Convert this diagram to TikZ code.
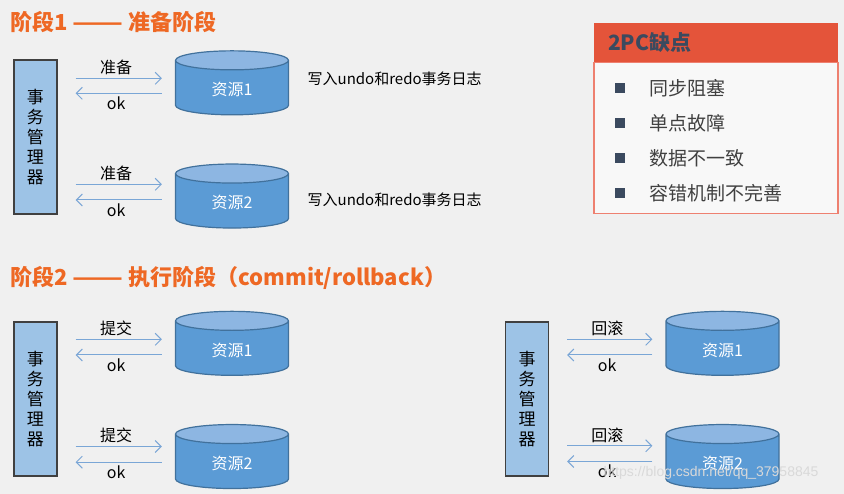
\documentclass[tikz,border=0pt]{standalone}
\usepackage{fontspec}
\setmainfont{Noto Sans CJK SC}
\newfontfamily\urlfont{Liberation Sans}
\usepackage{xcolor}
\usepackage{graphicx}
\definecolor{stageorange}{RGB}{238,104,36}
\definecolor{mgrblue}{RGB}{157,195,230}
\definecolor{resblue}{RGB}{91,155,213}
\definecolor{restop}{RGB}{141,182,226}
\definecolor{resedge}{RGB}{65,113,156}
\definecolor{msgblue}{RGB}{122,166,214}
\definecolor{conred}{RGB}{228,84,58}
\definecolor{conedge}{RGB}{238,128,112}
\definecolor{coninkblue}{RGB}{59,74,95}
\definecolor{pagegray}{RGB}{240,240,240}
\newcommand{\longdash}{\scalebox{1.35}[1]{——}}
\usetikzlibrary{arrows.meta,shapes.geometric,positioning,calc}
\tikzset{
	stage/.style={
		anchor=west,
		inner sep=0pt,
		text=stageorange,
		font=\bfseries\fontsize{22}{26}\selectfont,
	},
	manager/.style={
		rectangle,
		draw=black!75,
		line width=1.2pt,
		fill=mgrblue,
		minimum width=43pt,
		minimum height=154pt,
		align=center,
		font=\fontsize{17}{20}\selectfont,
	},
	resource/.style={
		cylinder,
		shape border rotate=90,
		aspect=0.4,
		draw=resedge,
		line width=1.2pt,
		cylinder uses custom fill,
		cylinder body fill=resblue,
		cylinder end fill=restop,
		minimum width=113pt,
		minimum height=64pt,
		text=white,
		font=\fontsize{16}{18}\selectfont,
	},
	req/.style={
		-{Straight Barb[length=6pt,width=12pt]},
		draw=msgblue,
		line width=1pt,
		shorten <=18pt,
		shorten >=13pt,
	},
	reply/.style={
		-{Straight Barb[length=6pt,width=12pt]},
		draw=msgblue,
		line width=1pt,
		shorten <=13pt,
		shorten >=18pt,
	},
	msglabel/.style={
		inner sep=3pt,
		font=\fontsize{16}{18}\selectfont,
	},
	redolog/.style={
		anchor=west,
		font=\fontsize{15}{18}\selectfont,
	},
	conhead/.style={
		rectangle,
		fill=conred,
		minimum width=244pt,
		minimum height=39pt,
		inner xsep=14pt,
		text width=216pt,
		align=left,
		text=coninkblue,
		font=\bfseries\fontsize{21}{24}\selectfont,
	},
	conbody/.style={
		rectangle,
		draw=conedge,
		line width=1.2pt,
		fill=white!55!pagegray,
		minimum width=244pt,
		minimum height=151pt,
	},
	conmark/.style={
		rectangle,
		fill=coninkblue,
		inner sep=0pt,
		minimum size=10pt,
	},
	conitem/.style={
		anchor=west,
		text=black!75,
		font=\fontsize{19}{22}\selectfont,
	},
}

\begin{document}
\begin{tikzpicture}[x=1pt,y=-1pt,node distance=48pt and 18pt]

\fill[pagegray] (0,0) rectangle (844,494);
\useasboundingbox (0,0) rectangle (844,494);

% stage 1: prepare
\node[stage] (si) at (10,22.5) {阶段1 \longdash{} 准备阶段};
\node[manager] (mi) at (35.5,137) {事\\务\\管\\理\\器};
\node[resource] (ri) at (232,89.5) {资源1};
\node[resource] (rii) [below=of ri] {资源2};
\node[redolog] (li) [right=15pt of ri,yshift=10.5pt] {写入undo和redo事务日志};
\node[redolog] (lii) [right=15pt of rii,yshift=2.7pt] {写入undo和redo事务日志};

\draw[req]
  ($(mi.east |- ri.center)+(0,-11.2)$)
  --
  node[msglabel,above]{准备}
  ($(ri.west |- ri.center)+(0,-11.2)$);
\draw[reply]
  ($(ri.west |- ri.center)+(0,3.8)$)
  --
  node[msglabel,below]{ok}
  ($(mi.east |- ri.center)+(0,3.8)$);

\draw[req]
  ($(mi.east |- rii.center)+(0,-18.4)$)
  --
  node[msglabel,above]{准备}
  ($(rii.west |- rii.center)+(0,-18.4)$);
\draw[reply]
  ($(rii.west |- rii.center)+(0,-2.7)$)
  --
  node[msglabel,below]{ok}
  ($(mi.east |- rii.center)+(0,-2.7)$);

% drawbacks
\node[conhead] (ch) at (716,42.5) {2PC缺点};
\node[conbody] (cb) [below=0pt of ch] {};
\node[conmark] (bi) at (620,88.3) {};
\node[conmark] (bii) [below=24.5pt of bi] {};
\node[conmark] (biii) [below=24.5pt of bii] {};
\node[conmark] (biv) [below=24.5pt of biii] {};
\node[conitem] (ci) [right=21pt of bi] {同步阻塞};
\node[conitem] (cii) [right=21pt of bii] {单点故障};
\node[conitem] (ciii) [right=21pt of biii] {数据不一致};
\node[conitem] (civ) [right=21pt of biv] {容错机制不完善};

% stage 2: commit / rollback
\node[stage] (sii) at (10,278) {阶段2 \longdash{} 执行阶段（commit/rollback）};
\node[manager] (mii) at (35.5,399) {事\\务\\管\\理\\器};
\node[resource] (riii) at (232,350) {资源1};
\node[resource] (riv) [below=of riii] {资源2};
\node[manager] (miii) at (527,399) {事\\务\\管\\理\\器};
\node[resource] (rv) at (722.5,350) {资源1};
\node[resource] (rvi) [below=of rv] {资源2};

\draw[req]
  ($(mii.east |- riii.center)+(0,-10.7)$)
  --
  node[msglabel,above]{提交}
  ($(riii.west |- riii.center)+(0,-10.7)$);
\draw[reply]
  ($(riii.west |- riii.center)+(0,5)$)
  --
  node[msglabel,below]{ok}
  ($(mii.east |- riii.center)+(0,5)$);

\draw[req]
  ($(mii.east |- riv.center)+(0,-16.7)$)
  --
  node[msglabel,above]{提交}
  ($(riv.west |- riv.center)+(0,-16.7)$);
\draw[reply]
  ($(riv.west |- riv.center)+(0,-1)$)
  --
  node[msglabel,below]{ok}
  ($(mii.east |- riv.center)+(0,-1)$);

\draw[req]
  ($(miii.east |- rv.center)+(0,-10.7)$)
  --
  node[msglabel,above]{回滚}
  ($(rv.west |- rv.center)+(0,-10.7)$);
\draw[reply]
  ($(rv.west |- rv.center)+(0,5)$)
  --
  node[msglabel,below]{ok}
  ($(miii.east |- rv.center)+(0,5)$);

\draw[req]
  ($(miii.east |- rvi.center)+(0,-17.4)$)
  --
  node[msglabel,above]{回滚}
  ($(rvi.west |- rvi.center)+(0,-17.4)$);
\draw[reply]
  ($(rvi.west |- rvi.center)+(0,-1.7)$)
  --
  node[msglabel,below]{ok}
  ($(miii.east |- rvi.center)+(0,-1.7)$);

\node[text=white!70!gray,font=\urlfont\fontsize{14}{16}\selectfont] (wm) at (711,473) {https://blog.csdn.net/qq\_37958845};

\end{tikzpicture}
\end{document}
